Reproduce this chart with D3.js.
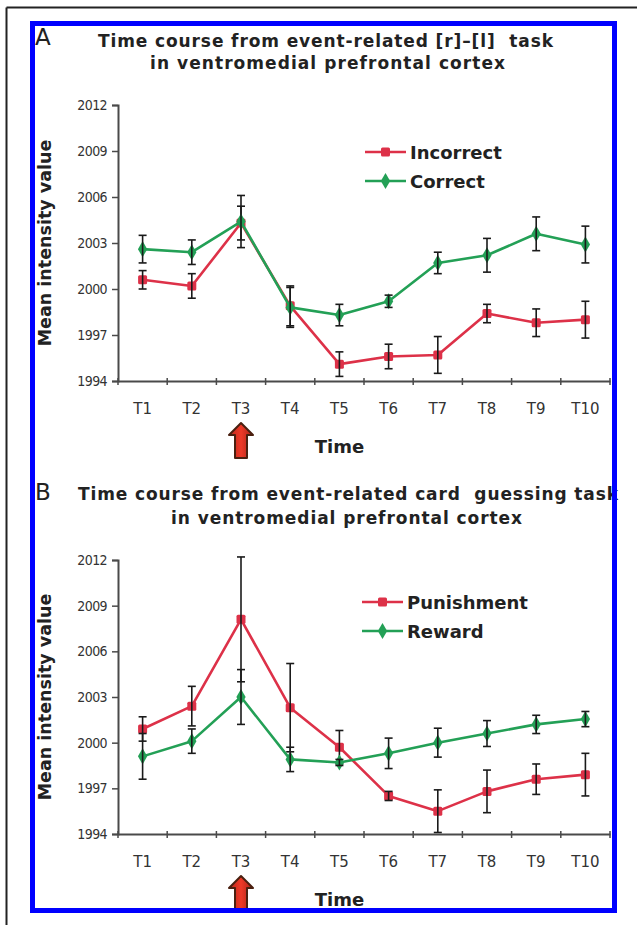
<!DOCTYPE html>
<html>
<head>
<meta charset="utf-8">
<script src="https://cdn.jsdelivr.net/npm/d3@7"></script>
<style>
  html, body { margin: 0; padding: 0; background: #fff; }
  svg { display: block; }
</style>
</head>
<body>
<svg id="chart" width="637" height="925"></svg>
<script>
// ---------- data ----------
const categories = ["T1", "T2", "T3", "T4", "T5", "T6", "T7", "T8", "T9", "T10"];
const yTickValues = [1994, 1997, 2000, 2003, 2006, 2009, 2012];

// Panel A: [r]-[l] task
const incorrectMean = [2000.6, 2000.2, 2004.3, 1998.9, 1995.1, 1995.6, 1995.7, 1998.4, 1997.8, 1998.0];
const incorrectErr  = [0.6, 0.8, 1.1, 1.3, 0.8, 0.8, 1.2, 0.6, 0.9, 1.2];
const correctMean   = [2002.6, 2002.4, 2004.4, 1998.8, 1998.3, 1999.2, 2001.7, 2002.2, 2003.6, 2002.9];
const correctErr    = [0.9, 0.8, 1.7, 1.3, 0.7, 0.4, 0.7, 1.1, 1.1, 1.2];

// Panel B: card guessing task
const punishmentMean = [2000.9, 2002.4, 2008.1, 2002.3, 1999.7, 1996.5, 1995.5, 1996.8, 1997.6, 1997.9];
const punishmentErr  = [0.8, 1.3, 4.1, 2.9, 1.1, 0.3, 1.4, 1.4, 1.0, 1.4];
const rewardMean     = [1999.1, 2000.1, 2003.0, 1998.9, 1998.7, 1999.3, 2000.0, 2000.6, 2001.2, 2001.55];
const rewardErr      = [1.5, 0.8, 1.8, 0.8, 0.2, 1.0, 0.95, 0.85, 0.6, 0.5];

const stimulusCategory = "T3";

// ---------- styles ----------
const RED = "#dd3148";
const GREEN = "#23a056";
const AXIS = "#4a4a4a";
const FONT = "'DejaVu Sans', Verdana, sans-serif";

const svg = d3.select("#chart");

// outer black frame (top + left)
svg.append("line").attr("x1", 6.5).attr("y1", 7.5).attr("x2", 637).attr("y2", 7.5)
  .attr("stroke", "#222").attr("stroke-width", 2);
svg.append("line").attr("x1", 6.5).attr("y1", 7.5).attr("x2", 6.5).attr("y2", 925)
  .attr("stroke", "#222").attr("stroke-width", 2);

// gradient for the arrows
const defs = svg.append("defs");
const grad = defs.append("linearGradient").attr("id", "arrowGrad").attr("x1", 0).attr("x2", 1).attr("y1", 0).attr("y2", 0);
grad.append("stop").attr("offset", "0%").attr("stop-color", "#b8261a");
grad.append("stop").attr("offset", "50%").attr("stop-color", "#ee3a28");
grad.append("stop").attr("offset", "100%").attr("stop-color", "#a82216");

function drawPanel(cfg) {
  const g = svg.append("g");
  const x = d3.scaleBand().domain(categories).range([cfg.left, cfg.right]);
  const y = d3.scaleLinear().domain([1994, 2012]).range([cfg.bottom, cfg.top]);
  const cx = d => x(d) + x.bandwidth() / 2;

  // panel letter
  g.append("text").attr("x", 35).attr("y", cfg.letterY)
    .attr("font-family", "'DejaVu Sans', sans-serif").attr("font-size", 23)
    .attr("fill", "#222").text(cfg.letter);

  // title
  cfg.title.forEach((t, i) => {
    g.append("text").attr("x", cfg.titleX[i]).attr("y", cfg.titleY[i])
      .attr("font-family", FONT).style("white-space", "pre")
      .attr("font-weight", "bold").attr("font-size", 17).attr("fill", "#222")
      .attr("textLength", cfg.titleW[i]).attr("lengthAdjust", "spacing")
      .text(t);
  });

  // y axis
  const yAxis = d3.axisLeft(y).tickValues(yTickValues).tickSize(6).tickPadding(5).tickFormat(d3.format("d"));
  const ya = g.append("g").attr("transform", `translate(${cfg.left},0)`).call(yAxis);
  ya.select(".domain").attr("stroke", AXIS).attr("stroke-width", 2);
  ya.selectAll(".tick line").attr("stroke", AXIS).attr("stroke-width", 1.5);
  ya.selectAll(".tick text").attr("font-family", "'DejaVu Sans Condensed', 'DejaVu Sans', sans-serif")
    .attr("font-size", 14).attr("fill", "#333").attr("letter-spacing", -0.6);

  // x axis (labels centered in bands, ticks at band boundaries)
  const xAxis = d3.axisBottom(x).tickSize(0).tickPadding(22);
  const xa = g.append("g").attr("transform", `translate(0,${cfg.bottom})`).call(xAxis);
  xa.select(".domain").attr("stroke", AXIS).attr("stroke-width", 2);
  xa.selectAll(".tick text").attr("font-family", FONT).attr("font-size", 15).attr("fill", "#333");
  const bounds = categories.map(c => x(c)).concat([x(categories[categories.length - 1]) + x.bandwidth()]);
  g.append("g").selectAll("line").data(bounds).join("line")
    .attr("x1", d => d).attr("x2", d => d)
    .attr("y1", cfg.bottom - 3).attr("y2", cfg.bottom + 4)
    .attr("stroke", AXIS).attr("stroke-width", 1.5);

  // axis titles
  g.append("text").attr("x", cx("T5")).attr("y", cfg.bottom + 72)
    .attr("text-anchor", "middle").attr("font-family", FONT).attr("font-weight", "bold")
    .attr("font-size", 18).attr("fill", "#222").text("Time");
  g.append("text")
    .attr("transform", `translate(51,${(cfg.top + cfg.bottom) / 2}) rotate(-90)`)
    .attr("text-anchor", "middle").attr("font-family", FONT).attr("font-weight", "bold")
    .attr("font-size", 17.5).attr("fill", "#222").text("Mean intensity value");

  // stimulus arrow below T3
  const ax = cx(stimulusCategory), at = cfg.bottom + 42;
  const arrowPath = `M${ax},${at} L${ax + 12},${at + 12} L${ax + 6},${at + 12} L${ax + 6},${at + 35}
                     L${ax - 6},${at + 35} L${ax - 6},${at + 12} L${ax - 12},${at + 12} Z`;
  g.append("path").attr("d", arrowPath).attr("fill", "url(#arrowGrad)")
    .attr("stroke", "#4a2010").attr("stroke-width", 2).attr("stroke-linejoin", "round");

  // series
  cfg.series.forEach(s => {
    const pts = categories.map((c, i) => ({ c, v: s.mean[i], e: s.err[i] }));
    const line = d3.line().x(d => cx(d.c)).y(d => y(d.v));
    g.append("path").datum(pts).attr("d", line).attr("fill", "none")
      .attr("stroke", s.color).attr("stroke-width", 2.6).attr("stroke-linejoin", "round");
    // markers
    if (s.shape === "square") {
      g.append("g").selectAll("rect").data(pts).join("rect")
        .attr("x", d => cx(d.c) - 4.5).attr("y", d => y(d.v) - 4.5)
        .attr("width", 9).attr("height", 9).attr("rx", 1.5).attr("fill", s.color);
    } else {
      g.append("g").selectAll("path").data(pts).join("path")
        .attr("d", d3.symbol(d3.symbolDiamond, 75))
        .attr("transform", d => `translate(${cx(d.c)},${y(d.v)})`).attr("fill", s.color);
    }
    // error bars
    const eb = g.append("g").attr("stroke", "#1a1a1a").attr("stroke-width", 1.6);
    pts.forEach(d => {
      const px = cx(d.c), y1 = y(d.v + d.e), y2 = y(d.v - d.e);
      eb.append("line").attr("x1", px).attr("x2", px).attr("y1", y1).attr("y2", y2);
      eb.append("line").attr("x1", px - 4).attr("x2", px + 4).attr("y1", y1).attr("y2", y1);
      eb.append("line").attr("x1", px - 4).attr("x2", px + 4).attr("y1", y2).attr("y2", y2);
    });
  });

  // legend
  cfg.series.forEach((s, i) => {
    const ly = cfg.legendY + i * 29, lx = cfg.legendX;
    g.append("line").attr("x1", lx).attr("x2", lx + 41).attr("y1", ly).attr("y2", ly)
      .attr("stroke", s.color).attr("stroke-width", 2.6);
    if (s.shape === "square") {
      g.append("rect").attr("x", lx + 16).attr("y", ly - 4.5).attr("width", 9).attr("height", 9)
        .attr("rx", 1.5).attr("fill", s.color);
    } else {
      g.append("path").attr("d", d3.symbol(d3.symbolDiamond, 75))
        .attr("transform", `translate(${lx + 20.5},${ly})`).attr("fill", s.color);
    }
    g.append("text").attr("x", lx + 45).attr("y", ly + 6.5)
      .attr("font-family", FONT).attr("font-weight", "bold").attr("font-size", 18)
      .attr("fill", "#222").text(s.name);
  });
}

drawPanel({
  letter: "A", letterY: 45,
  title: ["Time course from event-related [r]\u2013[l]  task", "in ventromedial prefrontal cortex"],
  titleX: [98, 150], titleY: [47, 69], titleW: [455, 355],
  left: 118, right: 610, top: 105, bottom: 381,
  legendX: 365, legendY: 152,
  series: [
    { name: "Incorrect", mean: incorrectMean, err: incorrectErr, color: RED, shape: "square" },
    { name: "Correct", mean: correctMean, err: correctErr, color: GREEN, shape: "diamond" }
  ]
});

drawPanel({
  letter: "B", letterY: 500,
  title: ["Time course from event-related card  guessing task", "in ventromedial prefrontal cortex"],
  titleX: [78, 171], titleY: [500, 524], titleW: [540, 351],
  left: 118, right: 610, top: 560, bottom: 834,
  legendX: 362, legendY: 602,
  series: [
    { name: "Punishment", mean: punishmentMean, err: punishmentErr, color: RED, shape: "square" },
    { name: "Reward", mean: rewardMean, err: rewardErr, color: GREEN, shape: "diamond" }
  ]
});

// blue frame on top
svg.append("rect").attr("x", 32.5).attr("y", 23.5).attr("width", 582).attr("height", 887)
  .attr("fill", "none").attr("stroke", "#0000ff").attr("stroke-width", 5);
</script>
</body>
</html>
